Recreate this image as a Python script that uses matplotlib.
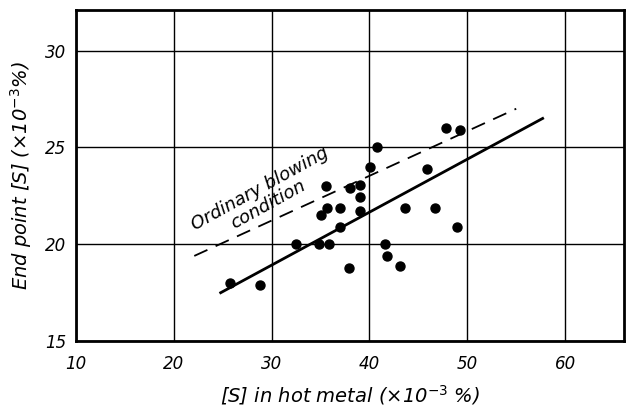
import numpy as np
import matplotlib.pyplot as plt

# [S] in hot metal vs end point [S], both x10^-3 %
s_hot = [25.8, 28.8, 32.5, 35.0, 34.8, 35.6, 35.7, 35.9, 37.0, 37.0, 37.9, 38.0, 39.0,
         39.0, 39.0, 40.1, 40.8, 41.6, 41.8, 43.1, 43.6, 45.9, 46.7, 47.8, 48.9, 49.3]
s_end = [18.0, 17.9, 20.0, 21.5, 20.0, 23.0, 21.9, 20.0, 21.9, 20.9, 18.8, 22.9, 23.05,
         22.45, 21.7, 24.0, 25.0, 20.0, 19.4, 18.9, 21.9, 23.9, 21.9, 26.0, 20.9, 25.9]

# regression line and ordinary blowing condition line (end points)
fit_x = [24.8, 57.7]
fit_y = [17.5, 26.5]
ordinary_x = [22.1, 55.0]
ordinary_y = [19.4, 27.0]

xticks = [10, 20, 30, 40, 50, 60]
yticks = [15, 20, 25, 30]

fig = plt.figure(figsize=(6.27, 4.16), dpi=100)
ax = fig.add_axes([0.121, 0.18, 0.874, 0.796])

ax.set_xlim(10, 66)
ax.set_ylim(15, 32.1)
ax.set_xticks(xticks)
ax.set_yticks(yticks)
ax.grid(True, color='black', linewidth=1.0)
ax.set_axisbelow(True)
ax.tick_params(length=0, labelsize=12)
ax.tick_params(axis='x', pad=10)
ax.tick_params(axis='y', pad=7)
for lab in ax.get_xticklabels() + ax.get_yticklabels():
  lab.set_fontstyle('italic')
for sp in ax.spines.values():
  sp.set_linewidth(2)

ax.plot(fit_x, fit_y, color='black', linewidth=2.0)
ax.plot(ordinary_x, ordinary_y, color='black', linewidth=1.3, linestyle=(0, (8, 5)))
ax.scatter(s_hot, s_end, s=42, color='black', zorder=3)

ax.text(29.2, 22.45, 'Ordinary blowing\ncondition', rotation=29, ha='center', va='center',
        multialignment='center', fontsize=13, fontstyle='italic', linespacing=0.95)

ax.set_xlabel('[S] in hot metal (×10$^{-3}$ %)', fontsize=14, fontstyle='italic', labelpad=7)
ax.set_ylabel('End point [S] (×10$^{-3}$%)', fontsize=14, fontstyle='italic', labelpad=8)

fig.savefig('out.png', dpi=100)
